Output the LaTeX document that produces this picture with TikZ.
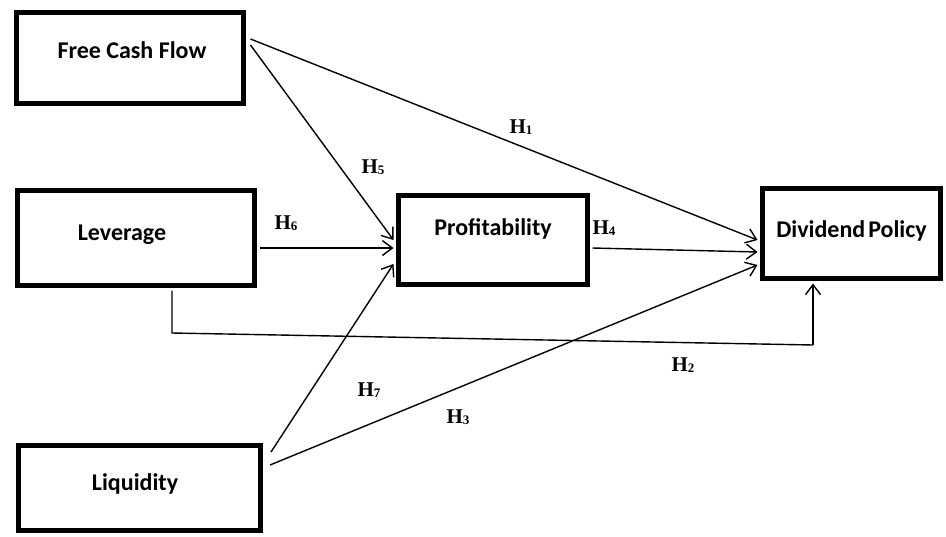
\documentclass[tikz,border=0pt]{standalone}
\usepackage{fontspec}
\setmainfont{Carlito}
\newfontfamily\hfont{Liberation Serif}
\usetikzlibrary{arrows.meta,calc}
\newcommand{\btxt}[3]{\raisebox{#2}[0pt][0pt]{\makebox[0pt]{\hspace*{#1}#3}}}
\newcommand{\hyp}[1]{{\hfont\bfseries\fontsize{21}{21}\selectfont H\raisebox{-1.5pt}{\fontsize{13}{13}\selectfont #1}}}
\tikzset{
  varbox/.style={draw=black, line width=5pt, rectangle, inner sep=0pt,
    font=\bfseries\fontsize{24}{24}\selectfont},
  conn/.style={line width=1.4pt, -{Straight Barb[length=10pt,width=15pt]}},
  plain/.style={line width=1.4pt},
  hlab/.style={inner sep=0pt}
}
\begin{document}
\begin{tikzpicture}[x=1pt,y=-1pt]
\useasboundingbox (0,0) rectangle (946,536);
\fill[white] (0,0) rectangle (946,536);
% boxes (line-centre coordinates)
\node[varbox, minimum width=227pt, minimum height=91pt] (fcf) at (130,58) {\btxt{4pt}{0pt}{Free Cash Flow}};
\node[varbox, minimum width=237pt, minimum height=95pt] (lev) at (136,238) {\btxt{-28pt}{-2.5pt}{Leverage}};
\node[varbox, minimum width=242pt, minimum height=85pt] (liq) at (139.5,488) {\btxt{-9pt}{-2.5pt}{Liquidity}};
\node[varbox, minimum width=189pt, minimum height=89pt] (prof) at (493,240) {\btxt{0pt}{4.5pt}{Profitability}};
\node[varbox, minimum width=178pt, minimum height=90pt] (dp) at (851.5,233.5) {\btxt{0pt}{-4pt}{Dividend\kern3pt Policy}};
% corner coordinates for the H2 path
\coordinate (levdown) at ($(lev.south)+(36,45)$);
\coordinate (dpbend) at ($(dp.south)+(-38.5,64)$);
% connectors
\draw[conn] ([shift={(4.5,-19)}]fcf.east) -- ([shift={(-2.5,6.5)}]dp.west);
\draw[conn] ([shift={(4.5,-13)}]fcf.east) -- ([shift={(-2.5,0)}]prof.west);
\draw[conn] ([shift={(2.5,10)}]lev.east) -- ([shift={(-2.5,8)}]prof.west);
\draw[conn] ([shift={(8,-36)}]liq.east) -- ([shift={(-2.5,24)}]prof.west);
\draw[conn] ([shift={(7,-23)}]liq.east) -- ([shift={(-2.5,31.5)}]dp.west);
\draw[conn] ([shift={(2.5,8)}]prof.east) -- ([shift={(-2.5,18.5)}]dp.west);
\draw[plain] ([shift={(36,2.5)}]lev.south) -- (levdown) -- (dpbend);
\draw[conn] (dpbend) -- ([shift={(-38.5,2.5)}]dp.south);
% labels
\node[hlab] (h1) at (521,127) {\hyp{1}};
\node[hlab] (h5) at (373,167) {\hyp{5}};
\node[hlab] (h6) at (286,223) {\hyp{6}};
\node[hlab] (h4) at (604,228) {\hyp{4}};
\node[hlab] (h2) at (683,365) {\hyp{2}};
\node[hlab] (h7) at (369,390) {\hyp{7}};
\node[hlab] (h3) at (458,417) {\hyp{3}};
\end{tikzpicture}
\end{document}
